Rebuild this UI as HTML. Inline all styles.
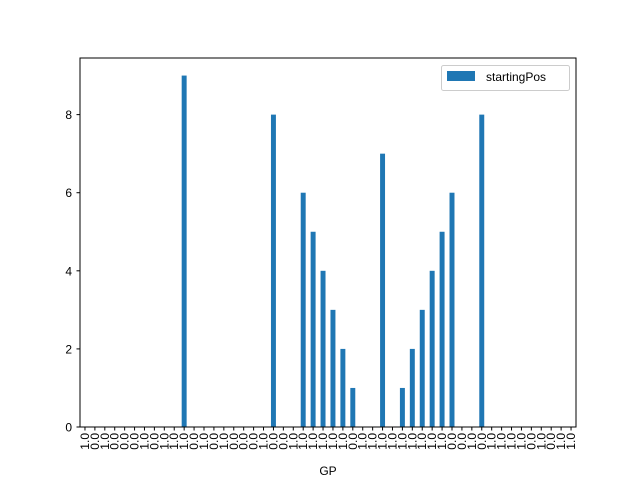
<!DOCTYPE html>
<html><head><meta charset="utf-8"><style>
html,body{margin:0;padding:0;background:#fff;}
svg text{font-family:"Liberation Sans","DejaVu Sans",sans-serif;}
</style></head><body>
<svg id="chart" width="640" height="480" xmlns="http://www.w3.org/2000/svg">
<rect width="640" height="480" fill="#fff"/>
<g id="bars"></g>
<g id="xticks"></g>
<g id="yticks"></g>
<rect x="80" y="58" width="496" height="369" fill="none" stroke="#000" stroke-width="1"/>
<text x="328" y="475" font-size="12" text-anchor="middle">GP</text>
<g>
<rect x="441.5" y="65.5" width="128" height="25" rx="2" fill="#fff" stroke="#ccc"/>
<rect x="447" y="71" width="28" height="10" fill="#1f77b4"/>
<text x="486" y="81" font-size="12">startingPos</text>
</g>
</svg>
<script>
const categories = [1,0,1,0,0,0,1,0,1,1,1,0,1,0,1,0,0,0,1,0,0,1,1,1,1,1,1,0,1,1,1,1,1,1,1,1,1,0,0,1,0,1,1,1,1,0,1,0,1,1];
const values = [0,0,0,0,0,0,0,0,0,0,9,0,0,0,0,0,0,0,0,8,0,0,6,5,4,3,2,1,0,0,7,0,1,2,3,4,5,6,0,0,8,0,0,0,0,0,0,0,0,0];
const yTicks = [0,2,4,6,8];
const NS="http://www.w3.org/2000/svg";
const x0=80,x1=576,yTop=58,yBot=427,yMax=9.45;
const n=values.length;
const step=(x1-x0)/n;
function xs(i){return x0+step*(i+0.5);}
function ys(v){return yBot-(v/yMax)*(yBot-yTop);}
const bars=document.getElementById('bars');
values.forEach((v,i)=>{
  if(v===0)return;
  const r=document.createElementNS(NS,'rect');
  r.setAttribute('x',xs(i)-step*0.25);
  r.setAttribute('width',step*0.5);
  r.setAttribute('y',ys(v));
  r.setAttribute('height',yBot-ys(v));
  r.setAttribute('fill','#1f77b4');
  
  
  bars.appendChild(r);
});
const xt=document.getElementById('xticks');
categories.forEach((c,i)=>{
  const x=xs(i);
  const l=document.createElementNS(NS,'line');
  l.setAttribute('x1',x);l.setAttribute('x2',x);l.setAttribute('y1',427);l.setAttribute('y2',430.5);
  l.setAttribute('stroke','#000');
  
  
  xt.appendChild(l);
  const t=document.createElementNS(NS,'text');
  t.setAttribute('transform','translate('+(x+4)+',433) rotate(-90)');
  t.setAttribute('font-size','12');
  t.setAttribute('text-anchor','end');
  t.textContent=c.toFixed(1);
  
  
  xt.appendChild(t);
});
const yt=document.getElementById('yticks');
yTicks.forEach(v=>{
  const y=ys(v);
  const l=document.createElementNS(NS,'line');
  l.setAttribute('x1',76.5);l.setAttribute('x2',80);l.setAttribute('y1',y);l.setAttribute('y2',y);
  l.setAttribute('stroke','#000');
  
  
  yt.appendChild(l);
  const t=document.createElementNS(NS,'text');
  t.setAttribute('x',72);t.setAttribute('y',y+4.5);
  t.setAttribute('font-size','12');t.setAttribute('text-anchor','end');
  t.textContent=v;
  
  
  yt.appendChild(t);
});
</script>
</body></html>
